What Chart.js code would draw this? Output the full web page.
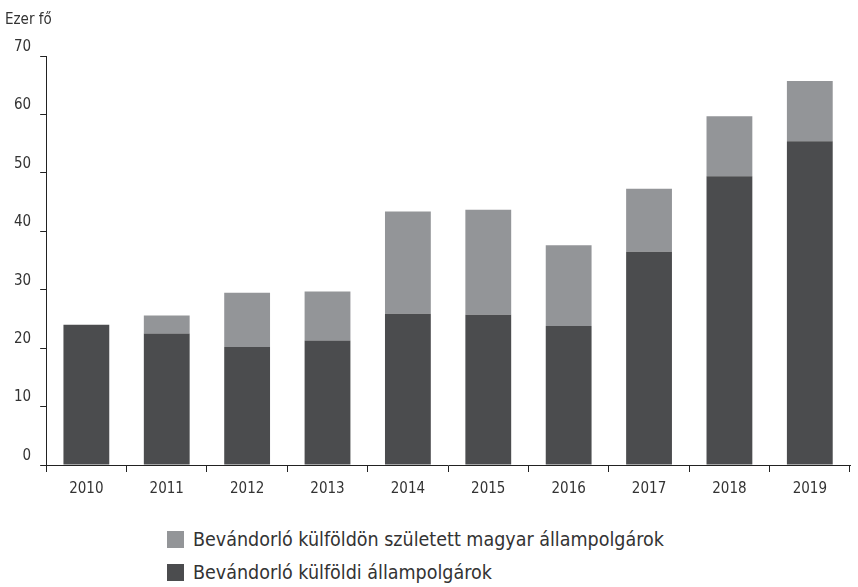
<!DOCTYPE html>
<html>
<head>
<meta charset="utf-8">
<script src="https://cdn.jsdelivr.net/npm/chart.js@4/dist/chart.umd.min.js"></script>
<style>
  body { margin: 0; background: #fff; font-family: 'DejaVu Sans Condensed', 'Liberation Sans Narrow', sans-serif; }
  #wrap { position: relative; width: 858px; height: 587px; }
  #legend { position: absolute; left: 167px; top: 523px; color: #333; font-size: 19.5px; }
  .item { display: flex; align-items: center; height: 33px; }
  .box { width: 17px; height: 17px; margin-right: 9px; }
</style>
</head>
<body>
<div id="wrap">
  <canvas id="migrationChart" width="858" height="515"></canvas>
  <div id="legend"></div>
</div>
<script>
// data (thousand persons)
const years = ['2010', '2011', '2012', '2013', '2014', '2015', '2016', '2017', '2018', '2019'];
const foreignCitizens = [24.0, 22.5, 20.2, 21.3, 25.9, 25.7, 23.8, 36.5, 49.4, 55.4];
const hungarianBornAbroad = [0, 3.1, 9.3, 8.4, 17.5, 18.0, 13.8, 10.8, 10.3, 10.3];
const yTicks = [0, 10, 20, 30, 40, 50, 60, 70];

const fontFamily = "'DejaVu Sans Condensed', 'Liberation Sans Narrow', sans-serif";
const textColor = '#333';

const ctx = document.getElementById('migrationChart').getContext('2d');
const chart = new Chart(ctx, {
    type: 'bar',
    data: {
        labels: years,
        datasets: [{
            label: 'Bevándorló külföldi állampolgárok',
            data: foreignCitizens,
            backgroundColor: '#4b4c4e',
            barPercentage: 0.57,
            categoryPercentage: 1
        }, {
            label: 'Bevándorló külföldön született magyar állampolgárok',
            data: hungarianBornAbroad,
            backgroundColor: '#939598',
            barPercentage: 0.57,
            categoryPercentage: 1
        }]
    },
    options: {
        responsive: false,
        animation: false,
        layout: { padding: { left: 5, right: 8, top: 0, bottom: 9 } },
        plugins: {
            legend: { display: false },
            tooltip: { enabled: false },
            title: {
                display: true,
                text: 'Ezer fő',
                align: 'start',
                color: textColor,
                font: { family: fontFamily, size: 15, weight: 'normal' },
                padding: { top: 11, bottom: 27 }
            }
        },
        scales: {
            x: {
                stacked: true,
                grid: { display: true, offset: true, drawOnChartArea: false, tickLength: 7, color: '#222', lineWidth: 1 },
                border: { display: true, color: '#222', width: 1 },
                ticks: { color: textColor, padding: 8, font: { family: fontFamily, size: 15 } }
            },
            y: {
                stacked: true,
                min: 0,
                max: 70,
                afterBuildTicks: axis => { axis.ticks = yTicks.map(v => ({ value: v })); },
                grid: { display: true, drawOnChartArea: false, tickLength: 6, color: '#222', lineWidth: 1 },
                border: { display: true, color: '#222', width: 1 },
                ticks: { color: textColor, padding: 9, labelOffset: -9, font: { family: fontFamily, size: 15 } }
            }
        }
    }
});

// legend below the chart, light series first
const legend = document.getElementById('legend');
chart.data.datasets.slice().reverse().forEach(ds => {
    const row = document.createElement('div');
    row.className = 'item';
    row.innerHTML = '<span class="box" style="background:' + ds.backgroundColor + '"></span><span>' + ds.label + '</span>';
    legend.appendChild(row);
});
</script>
</body>
</html>
